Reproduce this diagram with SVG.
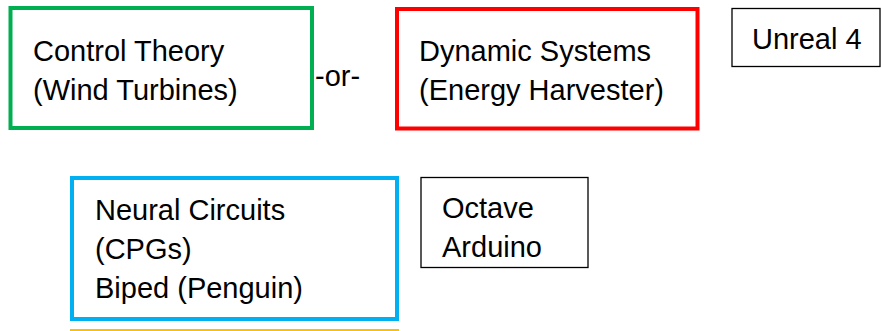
<svg xmlns="http://www.w3.org/2000/svg" width="881" height="331" viewBox="0 0 881 331">
<style>
text{font-family:"Liberation Sans",Arial,sans-serif;font-size:29px;fill:#000}
.thick{fill:#fff;stroke-width:4}
.thin{fill:#fff;stroke:#000;stroke-width:1.3}
</style>
<rect width="881" height="331" fill="#fff"/>
<g id="control-theory">
<rect class="thick" x="10.5" y="8" width="301.5" height="120" stroke="#00B050"/>
<text x="33" y="61">Control Theory</text>
<text x="33" y="100">(Wind Turbines)</text>
</g>
<g id="or-label">
<text x="315" y="86">-or-</text>
</g>
<g id="dynamic-systems">
<rect class="thick" x="397" y="9" width="300.5" height="119.5" stroke="#FF0000"/>
<text x="419" y="61">Dynamic Systems</text>
<text x="419" y="100">(Energy Harvester)</text>
</g>
<g id="unreal">
<rect class="thin" x="732" y="8.5" width="148" height="58"/>
<text x="752" y="49">Unreal 4</text>
</g>
<g id="neural-circuits">
<rect class="thick" x="72" y="178" width="325" height="141" stroke="#00B0F0"/>
<text x="95" y="220">Neural Circuits</text>
<text x="95" y="259">(CPGs)</text>
<text x="95" y="298">Biped (Penguin)</text>
</g>
<g id="octave">
<rect class="thin" x="421" y="177.5" width="167" height="90"/>
<text x="442" y="218">Octave</text>
<text x="442" y="257">Arduino</text>
</g>
<g id="yellow-box">
<rect class="thick" x="72" y="331" width="325" height="60" stroke="#FFC000"/>
</g>
<g id="connectors"/>
</svg>
